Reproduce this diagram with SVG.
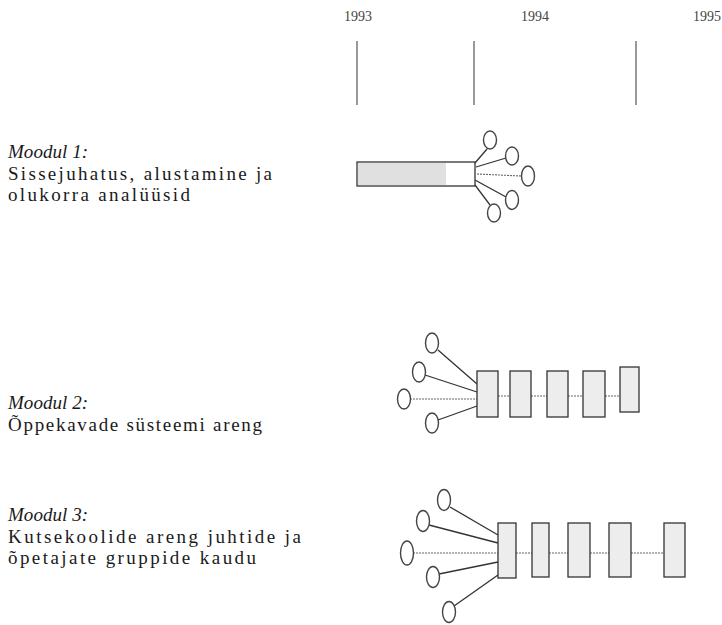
<svg xmlns="http://www.w3.org/2000/svg" width="722" height="625" viewBox="0 0 722 625">
<style>
.yr{font-family:"Liberation Serif","Times New Roman",serif;font-size:14px;fill:#444}
.t{font-family:"Liberation Serif","Times New Roman",serif;font-size:19px;fill:#1a1a1a}
.h{font-style:italic}
.tick{stroke:#555;stroke-width:1.2}
.node{fill:#ededed;stroke:#333;stroke-width:1.3}
.ov{fill:#fff;stroke:#444;stroke-width:1.4}
.ln{stroke:#333;stroke-width:1.3}
.dl{stroke:#666;stroke-width:1.1;stroke-dasharray:2 1}
</style>
<rect width="722" height="625" fill="#fff"/>
<g id="timeline">
<text class="yr" x="344" y="21">1993</text>
<text class="yr" x="521" y="21">1994</text>
<text class="yr" x="693" y="21">1995</text>
<line class="tick" x1="357" y1="41" x2="357" y2="105"/>
<line class="tick" x1="474" y1="41" x2="474" y2="105"/>
<line class="tick" x1="636" y1="41" x2="636" y2="105"/>
</g>
<g id="labels">
<text class="t h" x="8" y="158" textLength="80" lengthAdjust="spacing">Moodul 1:</text>
<text class="t" x="8" y="180" textLength="264" lengthAdjust="spacing">Sissejuhatus, alustamine ja</text>
<text class="t" x="8" y="201" textLength="182" lengthAdjust="spacing">olukorra analüüsid</text>
<text class="t h" x="8" y="409" textLength="80" lengthAdjust="spacing">Moodul 2:</text>
<text class="t" x="8" y="431" textLength="254" lengthAdjust="spacing">Õppekavade süsteemi areng</text>
<text class="t h" x="8" y="521" textLength="80" lengthAdjust="spacing">Moodul 3:</text>
<text class="t" x="8" y="543" textLength="293" lengthAdjust="spacing">Kutsekoolide areng juhtide ja</text>
<text class="t" x="8" y="564" textLength="248" lengthAdjust="spacing">õpetajate gruppide kaudu</text>
</g>
<g id="connectors">
<line class="ln" x1="475" y1="163" x2="487" y2="149"/>
<line class="ln" x1="476" y1="167" x2="506" y2="158"/>
<line class="dl" x1="477" y1="174" x2="521" y2="176"/>
<line class="ln" x1="475" y1="180" x2="506" y2="197"/>
<line class="ln" x1="475" y1="185" x2="490" y2="205"/>
<line class="ln" x1="438" y1="350" x2="477" y2="384"/>
<line class="ln" x1="425" y1="375" x2="477" y2="392"/>
<line class="dl" x1="410" y1="399" x2="477" y2="399"/>
<line class="ln" x1="438" y1="420" x2="477" y2="406"/>
<line class="dl" x1="498" y1="396" x2="510" y2="396"/>
<line class="dl" x1="531" y1="396" x2="547" y2="396"/>
<line class="dl" x1="568" y1="396" x2="583" y2="396"/>
<line class="dl" x1="605" y1="396" x2="620" y2="396"/>
<line class="ln" x1="450" y1="507" x2="498" y2="535"/>
<line class="ln" x1="429" y1="525" x2="498" y2="543"/>
<line class="dl" x1="413" y1="553" x2="498" y2="553"/>
<line class="ln" x1="439" y1="574" x2="498" y2="562"/>
<line class="ln" x1="454" y1="606" x2="498" y2="575"/>
<line class="dl" x1="516" y1="553" x2="532" y2="553"/>
<line class="dl" x1="549" y1="553" x2="568" y2="553"/>
<line class="dl" x1="590" y1="553" x2="609" y2="553"/>
<line class="dl" x1="631" y1="553" x2="664" y2="553"/>
</g>
<g id="m1">
<rect x="357" y="162" width="118" height="24" fill="#fff" stroke="#333" stroke-width="1.3"/>
<rect x="358" y="163" width="88" height="22" fill="#e0e0e0"/>
<ellipse class="ov" cx="490" cy="140" rx="6.5" ry="9"/>
<ellipse class="ov" cx="512" cy="156" rx="6.5" ry="9"/>
<ellipse class="ov" cx="528" cy="176" rx="6.5" ry="10"/>
<ellipse class="ov" cx="512" cy="200" rx="6.5" ry="9.5"/>
<ellipse class="ov" cx="494" cy="213" rx="6.5" ry="9"/>
</g>
<g id="m2">
<ellipse class="ov" cx="432" cy="343" rx="6.5" ry="10"/>
<ellipse class="ov" cx="419" cy="372" rx="6.5" ry="10"/>
<ellipse class="ov" cx="404" cy="399" rx="6.5" ry="10"/>
<ellipse class="ov" cx="432" cy="423" rx="6.5" ry="10"/>
<rect class="node" x="477" y="371" width="21" height="46"/>
<rect class="node" x="510" y="371" width="21" height="46"/>
<rect class="node" x="547" y="371" width="21" height="46"/>
<rect class="node" x="583" y="371" width="22" height="46"/>
<rect class="node" x="620" y="367" width="19" height="45"/>
</g>
<g id="m3">
<ellipse class="ov" cx="444" cy="500" rx="6.5" ry="10.5"/>
<ellipse class="ov" cx="423" cy="521" rx="6.5" ry="10.5"/>
<ellipse class="ov" cx="407" cy="553" rx="6.5" ry="12"/>
<ellipse class="ov" cx="433" cy="577" rx="6.5" ry="10.5"/>
<ellipse class="ov" cx="449" cy="612" rx="6.5" ry="10.5"/>
<rect class="node" x="498" y="523" width="18" height="55"/>
<rect class="node" x="532" y="523" width="17" height="54"/>
<rect class="node" x="568" y="523" width="22" height="54"/>
<rect class="node" x="609" y="523" width="22" height="54"/>
<rect class="node" x="664" y="523" width="21" height="54"/>
</g>
</svg>
